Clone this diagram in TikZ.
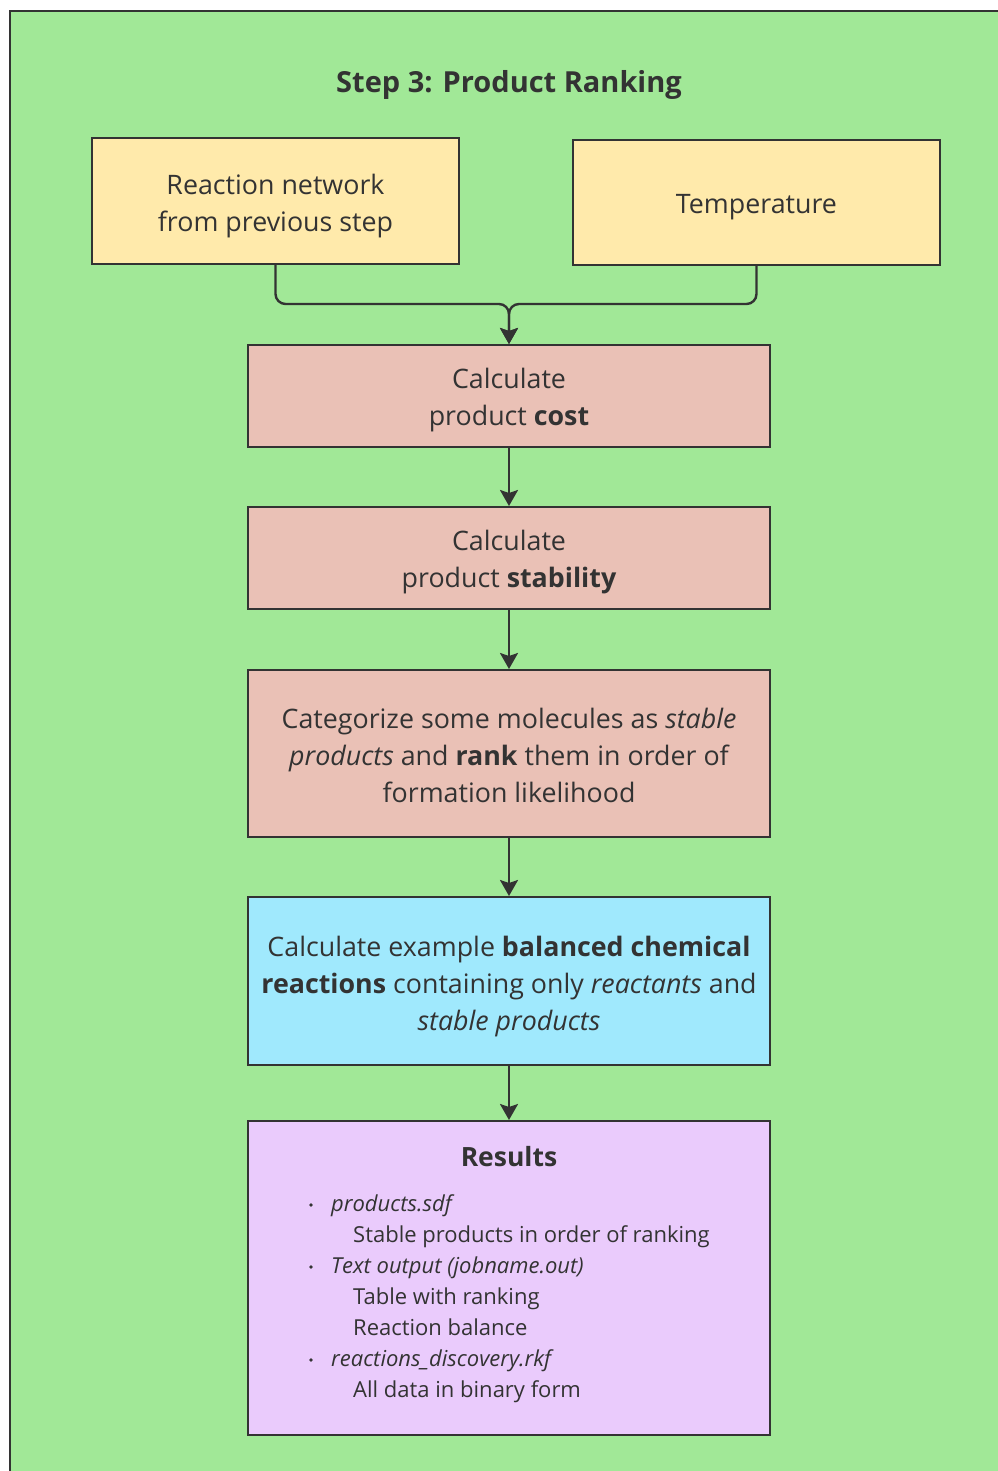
\documentclass[tikz,border=0pt]{standalone}
\usepackage{fontspec}
\setmainfont{Open Sans}
\usetikzlibrary{arrows.meta}
\definecolor{panelgreen}{HTML}{A1E897}
\definecolor{inyellow}{HTML}{FFEAAB}
\definecolor{calcpink}{HTML}{EAC1B6}
\definecolor{reactcyan}{HTML}{A0E9FD}
\definecolor{reslav}{HTML}{EACBFC}
\definecolor{ink}{HTML}{333333}
\tikzset{
  box/.style={draw=ink, line width=2pt, inner sep=0pt},
  inbox/.style={box, fill=inyellow, minimum width=367pt},
  calcbox/.style={box, fill=calcpink, minimum width=522pt},
  boxtext/.style={inner sep=0pt, align=center, text=ink,
    font=\fontsize{26.8}{37}\selectfont},
  link/.style={draw=ink, line width=2.4pt},
  flow/.style={link, -{Stealth[length=16pt,width=18pt,inset=3pt]}},
  resline/.style={anchor=base west, inner sep=0pt, text=ink,
    font=\fontsize{22}{31}\selectfont},
}
\begin{document}
\begin{tikzpicture}[x=1pt,y=-1pt]
\useasboundingbox (0,0) rectangle (997,1471);
% panel
\fill[panelgreen] (10,11) rectangle (1010,1480);
\draw[ink, line width=2.5pt] (10,1480) -- (10,11) -- (1010,11);
\node[text=ink, inner sep=0pt, font=\fontsize{29}{34}\selectfont\bfseries] (title) at (509,85) {Step 3: Product Ranking};

% inputs
\node[inbox, minimum height=126pt] (net) at (275.5,201) {};
\node[inbox, minimum height=125pt] (temp) at (756.5,202.5) {};
\node[boxtext] (net-t) at ([yshift=-5pt]net.center) {Reaction network\\from previous step};
\node[boxtext] (temp-t) at ([yshift=-5pt]temp.center) {Temperature};

% processing steps
\node[calcbox, minimum height=102pt] (cost) at (509,396) {};
\node[calcbox, minimum height=102pt] (stab) at (509,558) {};
\node[calcbox, minimum height=167pt] (rank) at (509,753.5) {};
\node[box, fill=reactcyan, minimum width=522pt, minimum height=168pt] (bal) at (509,981) {};
\node[box, fill=reslav, minimum width=522pt, minimum height=314pt] (res) at (509,1278) {};

\node[boxtext] (cost-t) at ([yshift=-4pt]cost.center) {Calculate\\product \textbf{cost}};
\node[boxtext] (stab-t) at ([yshift=-4pt]stab.center) {Calculate\\product \textbf{stability}};
\node[boxtext] (rank-t) at ([yshift=-2pt]rank.center) {Categorize some molecules as \textit{stable}\\\textit{products} and \textbf{rank} them in order of\\formation likelihood};
\node[boxtext] (bal-t) at ([yshift=-6pt]bal.center) {Calculate example \textbf{balanced chemical}\\\textbf{reactions} containing only \textit{reactants} and\\\textit{stable products}};

% results listing
\node[text=ink, inner sep=0pt, font=\fontsize{26.5}{30}\selectfont\bfseries] (restitle) at (509,1157) {Results};
\node[resline] (r1) at (331,1211) {\textit{products.sdf}};
\node[resline] (r2) at (353,1242) {Stable products in order of ranking};
\node[resline] (r3) at (331,1273) {\textit{Text output (jobname.out)}};
\node[resline] (r4) at (353,1304) {Table with ranking};
\node[resline] (r5) at (353,1335) {Reaction balance};
\node[resline] (r6) at (331,1366) {\textit{reactions\_discovery.rkf}};
\node[resline] (r7) at (353,1397) {All data in binary form};
\foreach \n in {r1,r3,r6}
  \fill[ink] ([xshift=-20pt,yshift=6pt]\n.base west) circle (1.8pt);

% connectors
\coordinate (join) at (509,304);
\draw[flow, rounded corners=10pt] (net.south) |- (join) -- (cost.north);
\draw[flow, rounded corners=10pt] (temp.south) |- (join) -- (cost.north);
\draw[flow] (cost) -- (stab);
\draw[flow] (stab) -- (rank);
\draw[flow] (rank) -- (bal);
\draw[flow] (bal) -- (res);
\end{tikzpicture}
\end{document}
